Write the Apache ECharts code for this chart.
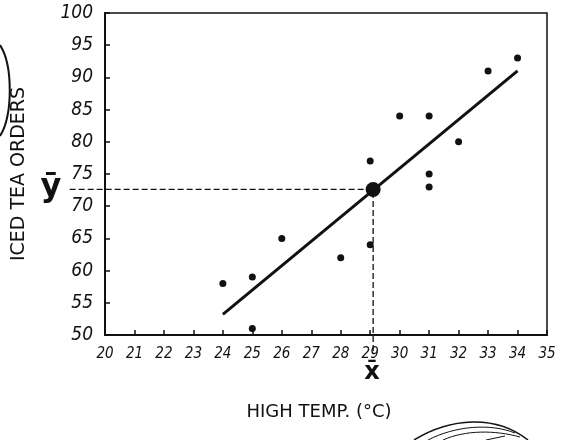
<!DOCTYPE html>
<html>
<head>
<meta charset="utf-8">
<script src="https://cdn.jsdelivr.net/npm/echarts@6/dist/echarts.min.js"></script>
<style>
  html, body { margin: 0; padding: 0; background: #fff; }
  #chart { width: 564px; height: 440px; }
</style>
</head>
<body>
<div id="chart"></div>
<script>
// readings from the picture
const tempX = [24, 25, 25, 26, 28, 29, 29, 30, 31, 31, 31, 32, 33, 34];
const ordersY = [58, 59, 51, 65, 62, 64, 77, 84, 84, 75, 73, 80, 91, 93];
const fitX = [24, 34];
const fitY = [53.2, 91];
const meanPoint = [29.1, 72.6];
// where the dashed guides run out to, past the axes
const guideEnds = [[18.8, 72.6], [29.1, 47.5]];
const xTicks = [20, 21, 22, 23, 24, 25, 26, 27, 28, 29, 30, 31, 32, 33, 34, 35];
const yTicks = [50, 55, 60, 65, 70, 75, 80, 85, 90, 95, 100];

const ink = '#111';
const handFont = "'DejaVu Sans Condensed', 'DejaVu Sans', sans-serif";

const chart = echarts.init(document.getElementById('chart'));

const points = tempX.map((x, i) => [x, ordersY[i]]);
const fitLine = fitX.map((x, i) => [x, fitY[i]]);

chart.setOption({
  animation: false,
  backgroundColor: '#fff',
  grid: {
    left: 105, right: 17, top: 13, bottom: 105,
    show: true, borderColor: ink, borderWidth: 1.5
  },
  xAxis: {
    type: 'value',
    min: xTicks[0],
    max: xTicks[xTicks.length - 1],
    interval: 1,
    name: 'HIGH TEMP. (°C)',
    nameLocation: 'middle',
    nameGap: 68,
    nameTextStyle: { color: ink, fontSize: 18, fontFamily: "'DejaVu Sans', sans-serif", padding: [0, 14, 0, 0] },
    axisLine: { lineStyle: { color: ink, width: 2 } },
    axisTick: { inside: true, length: 5, lineStyle: { color: ink, width: 1.5 } },
    axisLabel: {
      color: ink, fontSize: 15, fontStyle: 'italic', fontFamily: handFont, margin: 12,
      showMinLabel: true, showMaxLabel: true
    },
    splitLine: { show: false }
  },
  yAxis: {
    type: 'value',
    min: yTicks[0],
    max: yTicks[yTicks.length - 1],
    interval: 5,
    name: 'ICED TEA ORDERS',
    nameLocation: 'middle',
    nameGap: 76,
    nameTextStyle: { color: ink, fontSize: 19, fontFamily: "'DejaVu Sans', sans-serif" },
    axisLine: { lineStyle: { color: ink, width: 2 } },
    axisTick: { inside: true, length: 5, lineStyle: { color: ink, width: 1.5 } },
    axisLabel: { color: ink, fontSize: 19, fontStyle: 'italic', fontFamily: handFont, margin: 12 },
    splitLine: { show: false }
  },
  series: [
    {
      type: 'line',
      symbol: 'none',
      data: fitLine,
      lineStyle: { color: ink, width: 3 },
      z: 2
    },
    {
      type: 'scatter',
      data: points,
      symbolSize: 7,
      itemStyle: { color: ink, opacity: 1 },
      z: 3
    },
    {
      type: 'scatter',
      data: [meanPoint],
      symbolSize: 15,
      itemStyle: { color: ink, opacity: 1 },
      z: 4
    }
  ]
});

// dashed guides, placed through the chart's own scales
const m = chart.convertToPixel({ gridIndex: 0 }, meanPoint);
const guides = guideEnds.map(p => {
  const e = chart.convertToPixel({ gridIndex: 0 }, p);
  return {
    type: 'line',
    z: 1,
    shape: { x1: e[0], y1: e[1], x2: m[0], y2: m[1] },
    style: { stroke: ink, lineWidth: 1.3, lineDash: [6, 3] }
  };
});

chart.setOption({
  graphic: guides.concat([
    {
      type: 'text',
      x: 51, y: 188,
      style: { text: 'ȳ', font: "bold 32px 'DejaVu Sans'", fill: ink, align: 'center', verticalAlign: 'middle' }
    },
    {
      type: 'text',
      x: 372, y: 373,
      style: { text: 'x̄', font: "bold 24px 'DejaVu Sans'", fill: ink, align: 'center', verticalAlign: 'middle' }
    },
    {
      type: 'bezierCurve',
      shape: { x1: 0, y1: 45, x2: 0, y2: 136, cpx1: 13, cpy1: 65, cpx2: 13, cpy2: 115 },
      style: { stroke: ink, lineWidth: 2, fill: null }
    },
    {
      type: 'bezierCurve',
      shape: { x1: 414, y1: 440, x2: 528, y2: 440, cpx1: 450, cpy1: 418, cpx2: 495, cpy2: 414 },
      style: { stroke: ink, lineWidth: 1.5, fill: null }
    },
    {
      type: 'bezierCurve',
      shape: { x1: 428, y1: 440, x2: 515, y2: 433, cpx1: 455, cpy1: 426, cpx2: 490, cpy2: 423 },
      style: { stroke: ink, lineWidth: 1, fill: null }
    },
    {
      type: 'bezierCurve',
      shape: { x1: 443, y1: 440, x2: 520, y2: 437, cpx1: 465, cpy1: 430, cpx2: 495, cpy2: 430 },
      style: { stroke: ink, lineWidth: 1, fill: null }
    },
    {
      type: 'line',
      shape: { x1: 486, y1: 440, x2: 505, y2: 436 },
      style: { stroke: ink, lineWidth: 1 }
    }
  ])
});
</script>
</body>
</html>
